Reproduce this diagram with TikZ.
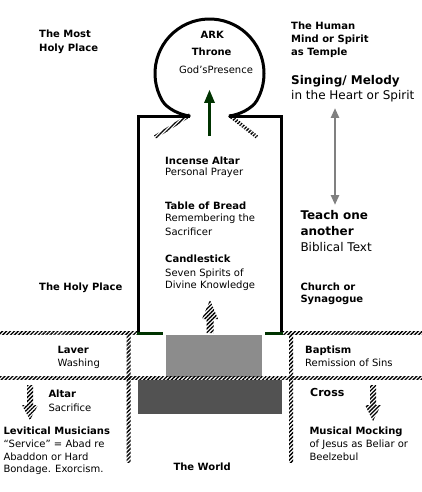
\documentclass[tikz,border=0pt]{standalone}
\usepackage{fontspec}
\setmainfont{DejaVu Sans}
\usetikzlibrary{patterns.meta,arrows.meta}
\definecolor{dgreen}{RGB}{0,51,0}
\begin{document}
\begin{tikzpicture}[x=1pt,y=-1pt,
  lb/.style={anchor=base west,inner sep=0pt,font=\fontsize{10}{12}\selectfont\bfseries},
  lr/.style={anchor=base west,inner sep=0pt,font=\fontsize{10}{12}\selectfont},
  Lb/.style={anchor=base west,inner sep=0pt,font=\fontsize{12}{14}\selectfont\bfseries},
  Lr/.style={anchor=base west,inner sep=0pt,font=\fontsize{12}{14}\selectfont},
  cb/.style={anchor=base,inner sep=0pt,font=\fontsize{10}{12}\selectfont\bfseries},
  cr/.style={anchor=base,inner sep=0pt,font=\fontsize{10}{12}\selectfont},
  hatch/.style={pattern={Lines[angle=45,distance=2.8pt,line width=1.35pt]}},
  wall/.style={line width=3pt,line join=miter},
  gline/.style={dgreen,line width=3pt},
]
\useasboundingbox (0,0) rectangle (422,492);

% dithered floors
\fill[black!45] (166,335) rectangle (262,377);
\fill[hatch] (0,376.5) rectangle (422,379.5);
\fill[black!68] (138,380) rectangle (282,414);

% hatched walls (court)
\fill[hatch] (0,331.5) rectangle (138,334.5);
\fill[hatch] (281,331.5) rectangle (422,334.5);
\fill[hatch] (126.5,333) rectangle (130.5,462);
\fill[hatch] (289,333) rectangle (293,462);

% Most Holy Place (round)
\draw[line width=3pt] (190,116) .. controls (180,115) and (166.8,108.5) .. (162.3,100.75)
  arc[start angle=150,end angle=390,radius=54.5]
  .. controls (252.2,108.5) and (239,115) .. (229,116);

% Holy Place walls
\draw[wall] (190,117) -| (138,334.5);
\draw[wall] (229,117) -| (281,334.5);
\draw[gline] (136.5,333) -- (163,333);
\draw[gline] (282.5,333) -- (265,333);

% hatched veils at the corners
\fill[hatch] (189,113.5) -- (191,116.5) -- (156,138.5) -- (154,135.5) -- cycle;
\fill[hatch] (228,116.5) -- (230,113.5) -- (258,135.5) -- (256,138.5) -- cycle;

% green arrow to the throne
\coordinate (gs) at (209.5,136);
\coordinate (gt) at (209.5,90);
\draw[dgreen,line width=3.5pt] (gs) -- (209.5,101);
\fill[dgreen] (gt) -- (215,103) -- (204,103) -- cycle;

% hatched up arrow (entrance)
\fill[hatch] (210,300) -- (218,319) -- (213.5,319) -- (213.5,333) -- (206.5,333) -- (206.5,319) -- (202,319) -- cycle;

% hatched down arrows
\fill[hatch] (27,385) -- (33,385) -- (33,405) -- (38,405) -- (30,420) -- (22,405) -- (27,405) -- cycle;
\fill[hatch] (370,385) -- (376,385) -- (376,405) -- (381,405) -- (373,421) -- (365,405) -- (370,405) -- cycle;

% gray double arrow
\coordinate (ga) at (335,108);
\coordinate (gb) at (335,205);
\draw[black!50,line width=2.5pt,{Triangle[width=8pt,length=10pt]}-{Triangle[width=8pt,length=10pt]}] (ga) -- (gb);

% texts in the circle
\node[cb] (ark) at (212.3,38.5) {ARK};
\node[cb] (thr) at (211.7,56) {Throne};
\node[cr] (gp) at (216,74) {God’sPresence};

% left texts
\node[lb] (mh1) at (39,38) {The Most};
\node[lb] (mh2) at (39,51.3) {Holy Place};
\node[lb] (hp) at (39,290) {The Holy Place};

% right texts
\node[lb] (hm1) at (291,29.5) {The Human};
\node[lb] (hm2) at (291,42.5) {Mind or Spirit};
\node[lb] (hm3) at (291,55.5) {as Temple};
\node[Lb] (sm) at (291,85) {Singing/ Melody};
\node[Lr] (ih) at (291,100) {in the Heart or Spirit};
\node[Lb] (t1) at (300.3,219.3) {Teach one};
\node[Lb] (t2) at (300.3,235) {another};
\node[Lr] (bt) at (300.3,251.7) {Biblical Text};
\node[lb] (cs1) at (300.3,290) {Church or};
\node[lb] (cs2) at (300.3,302.7) {Synagogue};

% holy place furniture
\node[lb] (ia) at (165,164) {Incense Altar};
\node[lr] (pp) at (165,175.7) {Personal Prayer};
\node[lb] (tb) at (165,209) {Table of Bread};
\node[lr] (rt) at (165,221.3) {Remembering the};
\node[lr] (sc) at (165,235) {Sacrificer};
\node[lb] (cd) at (165,262.7) {Candlestick};
\node[lr] (ss) at (165,276) {Seven Spirits of};
\node[lr] (dk) at (165,288.3) {Divine Knowledge};

% court
\node[lb] (lv) at (57.3,353.3) {Laver};
\node[lr] (wa) at (57.3,366.7) {Washing};
\node[lb] (al) at (48.3,397.7) {Altar};
\node[lr] (sa) at (48.3,411) {Sacrifice};
\node[lb] (lm) at (3.3,434) {Levitical Musicians};
\node[lr] (sv) at (3.3,447.3) {“Service” = Abad re};
\node[lr] (ab) at (3.3,460) {Abaddon or Hard};
\node[lr] (bo) at (3.3,472.7) {Bondage. Exorcism.};
\node[lb] (tw) at (173.3,470) {The World};
\node[lb] (bp) at (305,353.3) {Baptism};
\node[lr] (rs) at (305,366.7) {Remission of Sins};
\node[anchor=base west,inner sep=0pt,font=\fontsize{11}{13}\selectfont\bfseries] (cr) at (310,396.7) {Cross};
\node[lb] (mm) at (309.3,434) {Musical Mocking};
\node[lr] (oj) at (309.3,447.3) {of Jesus as Beliar or};
\node[lr] (bz) at (309.3,460) {Beelzebul};
\end{tikzpicture}
\end{document}
